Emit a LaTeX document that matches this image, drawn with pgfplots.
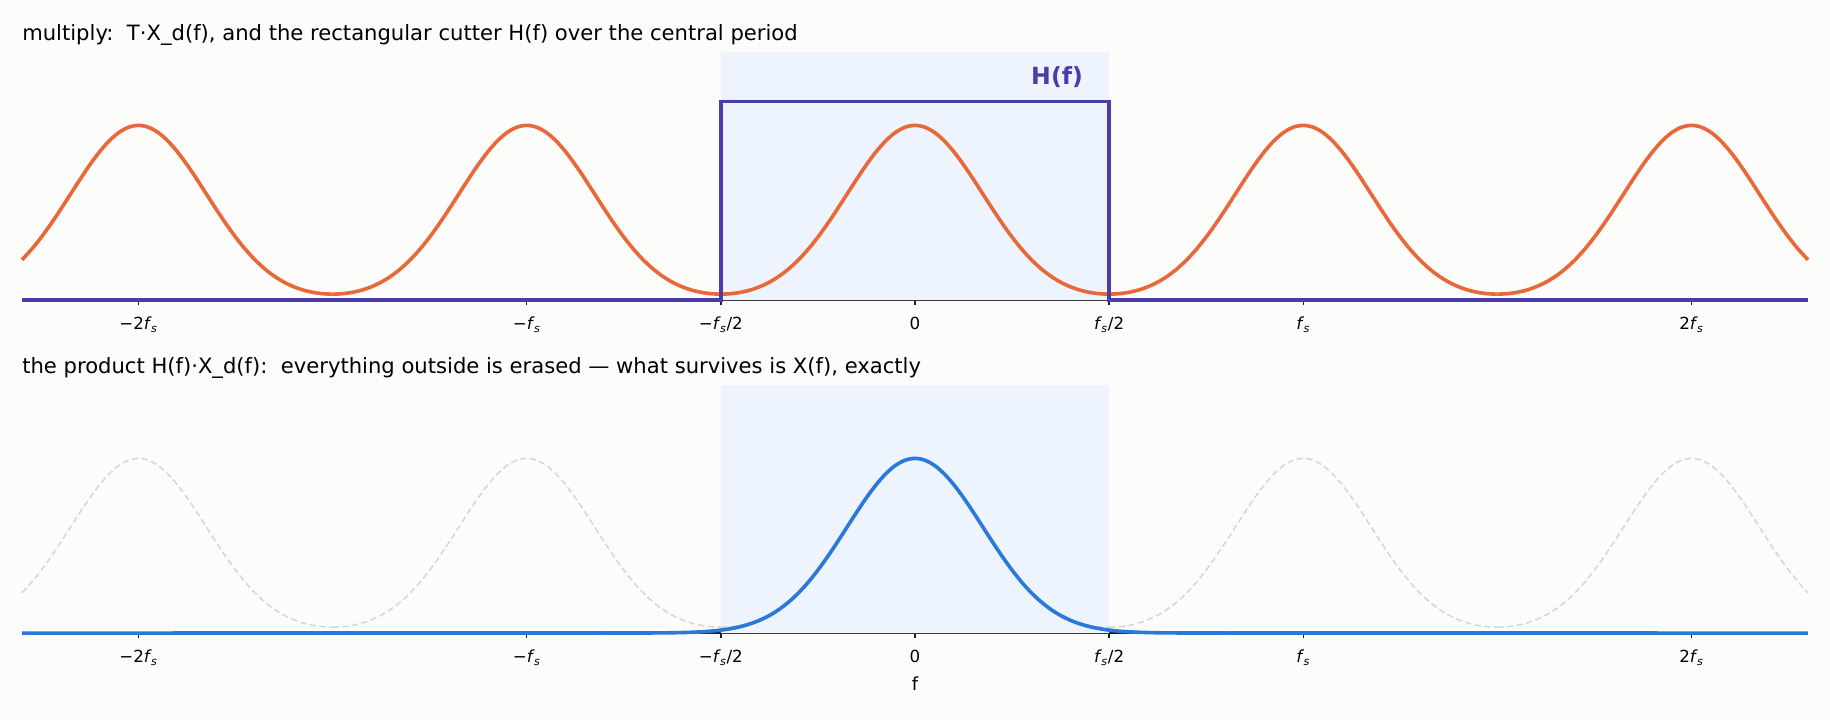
\documentclass[border=0pt]{standalone}
\usepackage{pgfplots}
\pgfplotsset{compat=1.18}
\usepackage{pgfplotstable}
\usepackage{fontspec}
\setmainfont{DejaVu Sans}

\definecolor{bgc}{HTML}{FCFCFB}
\definecolor{orng}{HTML}{E8683A}
\definecolor{hpur}{HTML}{4A3DA8}
\definecolor{xblu}{HTML}{2A78D8}
\definecolor{shade}{HTML}{EDF4FD}
\definecolor{ghost}{HTML}{D6D6D6}

% one period of T*X_d(f), f in units of fs
\pgfplotstableread{
x y
-0.500 0.03376
-0.475 0.03624
-0.450 0.04382
-0.425 0.05692
-0.400 0.07617
-0.375 0.10237
-0.350 0.13635
-0.325 0.17885
-0.300 0.23041
-0.275 0.29111
-0.250 0.36055
-0.225 0.43762
-0.200 0.52045
-0.175 0.60653
-0.150 0.69257
-0.125 0.77484
-0.100 0.84937
-0.075 0.91225
-0.050 0.96000
-0.025 0.98985
0.000 1.00000
0.025 0.98985
0.050 0.96000
0.075 0.91225
0.100 0.84937
0.125 0.77484
0.150 0.69257
0.175 0.60653
0.200 0.52045
0.225 0.43762
0.250 0.36055
0.275 0.29111
0.300 0.23041
0.325 0.17885
0.350 0.13635
0.375 0.10237
0.400 0.07617
0.425 0.05692
0.450 0.04382
0.475 0.03624
0.500 0.03376
}\period

% X(f) alone
\pgfplotstableread{
x y
-0.800 0.00003
-0.750 0.00010
-0.700 0.00034
-0.650 0.00101
-0.625 0.00170
-0.600 0.00280
-0.575 0.00453
-0.550 0.00716
-0.525 0.01111
-0.500 0.01688
-0.475 0.02513
-0.450 0.03666
-0.425 0.05239
-0.400 0.07337
-0.375 0.10067
-0.350 0.13534
-0.325 0.17826
-0.300 0.23007
-0.275 0.29092
-0.250 0.36045
-0.225 0.43757
-0.200 0.52045
-0.175 0.60653
-0.150 0.69257
-0.125 0.77484
-0.100 0.84937
-0.075 0.91225
-0.050 0.96000
-0.025 0.98985
0.000 1.00000
0.025 0.98985
0.050 0.96000
0.075 0.91225
0.100 0.84937
0.125 0.77484
0.150 0.69257
0.175 0.60653
0.200 0.52045
0.225 0.43757
0.250 0.36045
0.275 0.29092
0.300 0.23007
0.325 0.17826
0.350 0.13534
0.375 0.10067
0.400 0.07337
0.425 0.05239
0.450 0.03666
0.475 0.02513
0.500 0.01688
0.525 0.01111
0.550 0.00716
0.575 0.00453
0.600 0.00280
0.625 0.00170
0.650 0.00101
0.700 0.00034
0.750 0.00010
0.800 0.00003
}\xorig

\newcommand{\fs}{\textit{f}\textsubscript{\kern-0.5pt\textit{s}}}

\pgfplotsset{
  spec/.style={
    scale only axis,
    width=1285.9pt, height=178.6pt,
    xmin=-2.3, xmax=2.3, ymin=0, ymax=1.42,
    clip=false,
    axis x line=bottom, axis y line=none,
    axis line style={-, black!88, line width=1pt},
    xtick={-2,-1,-0.5,0,0.5,1,2},
    xticklabels={−2\fs, −\fs, −\fs/2, 0, \fs/2, \fs, 2\fs},
    tick align=outside, major tick length=3.6pt,
    tick style={black!88, line width=1pt},
    ytick=\empty,
    ticklabel style={font=\fontsize{12}{14}\selectfont, yshift=-5pt},
    title style={at={(0,1)}, anchor=base west, yshift=2.6pt, inner sep=0pt,
      font=\fontsize{15.2}{17}\selectfont},
    restrict x to domain=-2.3:2.3,
  },
}

\begin{document}
\begin{tikzpicture}
\fill[bgc] (-15.84pt,37.44pt) rectangle (1301.76pt,-480.96pt);

\begin{axis}[spec, at={(0,0)}, anchor=north west,
  title={multiply:\ \ T·X\_d(f), and the rectangular cutter H(f) over the central period}]
\addplot[fill=shade, draw=none] coordinates {(-0.5,0) (-0.5,1.42) (0.5,1.42) (0.5,0)} \closedcycle;
\foreach \s in {-2,-1,0,1,2}{
  \addplot[orng, line width=2.6pt, smooth] table[x expr=\thisrow{x}+\s, y=y] {\period};
}
\addplot[hpur, line width=2.6pt, line join=miter] coordinates
  {(-2.3,0) (-0.5,0) (-0.5,1.137) (0.5,1.137) (0.5,0) (2.3,0)};
\node[anchor=east, text=hpur, font=\fontsize{17}{19}\selectfont\bfseries]
  at (axis cs:0.445,1.274) {H(f)};
\end{axis}

\begin{axis}[spec, at={(0,-239.76pt)}, anchor=north west,
  title={the product H(f)·X\_d(f):\ \ everything outside is erased — what survives is X(f), exactly},
  xlabel={f},
  xlabel style={at={(0.5,0)}, anchor=base, yshift=-41pt, font=\fontsize{13}{15}\selectfont}]
\addplot[fill=shade, draw=none] coordinates {(-0.5,0) (-0.5,1.42) (0.5,1.42) (0.5,0)} \closedcycle;
\foreach \s in {-2,-1,0,1,2}{
  \addplot[ghost, line width=1.1pt, dash pattern=on 4.5pt off 2.5pt, smooth]
    table[x expr=\thisrow{x}+\s, y=y] {\period};
}
\addplot[xblu, line width=2.6pt] coordinates {(-2.3,0) (-0.8,0.00003)};
\addplot[xblu, line width=2.6pt] coordinates {(0.8,0.00003) (2.3,0)};
\addplot[xblu, line width=2.6pt, smooth] table[x=x, y=y] {\xorig};
\end{axis}
\end{tikzpicture}
\end{document}
